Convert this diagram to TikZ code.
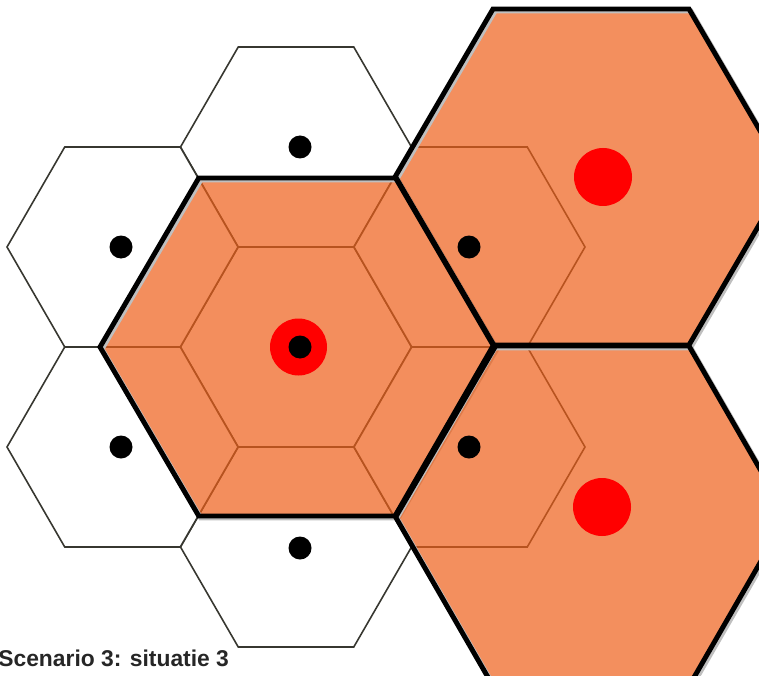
\documentclass[tikz,border=0pt]{standalone}
\usepackage{fontspec}
\setmainfont{Liberation Sans}
\definecolor{cellorange}{RGB}{238,95,25}
\definecolor{cellline}{RGB}{55,55,48}
\begin{document}
\begin{tikzpicture}[x=0.02cm, y=-0.02cm,
    smallhex/.style={draw=cellline, line width=0.9pt, fill=white},
    bighex/.style={fill=cellorange, fill opacity=0.7},
    bigrim/.style={draw=black, line width=2.8pt, line join=miter},
    rimshade/.style={draw=black!25, line width=2.8pt, line join=miter},
    station/.style={fill=black},
    redspot/.style={fill=red}]
	\useasboundingbox (0,0) rectangle (759,675);
	\clip (0,0) rectangle (759,675);
	% small cells
	\foreach \cx/\cy in {296/347, 296/147, 296/547, 122.5/247, 122.5/447, 469.5/247, 469.5/447}
		\draw[smallhex, shift={(\cx,\cy)}] (0:115.5) -- (60:115.5) -- (120:115.5) -- (180:115.5) -- (240:115.5) -- (300:115.5) -- cycle;
	% large cells
	\foreach \cx/\cy/\r/\h in {297.5/347/197.5/169, 591/177/196/168, 591/516/196/170} {
		\fill[bighex, shift={(\cx,\cy)}] (\r,0) -- ({\r/2},\h) -- ({-\r/2},\h) -- (-\r,0) -- ({-\r/2},-\h) -- ({\r/2},-\h) -- cycle;
		\draw[rimshade, shift={(\cx+2,\cy+2)}] (\r,0) -- ({\r/2},\h) -- ({-\r/2},\h) -- (-\r,0) -- ({-\r/2},-\h) -- ({\r/2},-\h) -- cycle;
	}
	\foreach \cx/\cy/\r/\h in {297.5/347/197.5/169, 591/177/196/168, 591/516/196/170}
		\draw[bigrim, shift={(\cx,\cy)}] (\r,0) -- ({\r/2},\h) -- ({-\r/2},\h) -- (-\r,0) -- ({-\r/2},-\h) -- ({\r/2},-\h) -- cycle;
	% base stations
	\fill[redspot] (298.5,347) circle (28.5);
	\fill[redspot] (603,177) circle (29);
	\fill[redspot] (602,507) circle (29);
	\fill[station] (300,347) circle (11.5);
	\fill[station] (300,147) circle (11.5);
	\fill[station] (300,548) circle (11.5);
	\fill[station] (121,247) circle (11.5);
	\fill[station] (121,447) circle (11.5);
	\fill[station] (469,247) circle (11.5);
	\fill[station] (469,447) circle (11.5);
	\node[anchor=base west, inner sep=0pt, font=\fontsize{13pt}{15pt}\selectfont\bfseries, text=black!85] (caption) at (-2,666) {Scenario 3: situatie 3};
\end{tikzpicture}
\end{document}
